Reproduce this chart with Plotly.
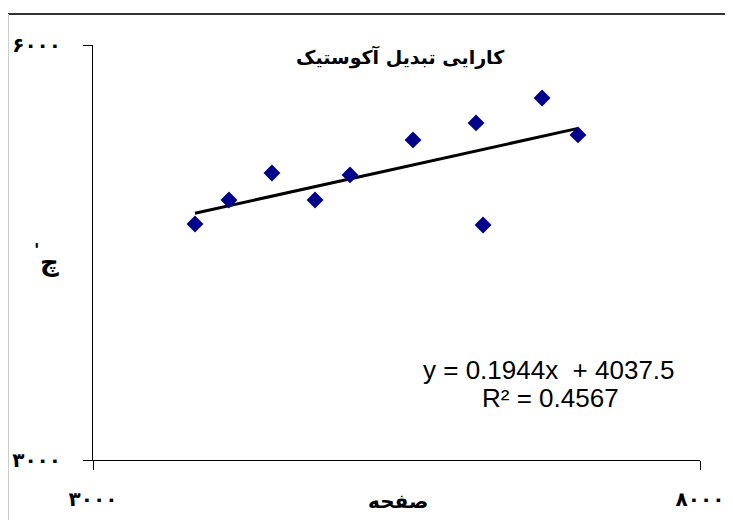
import plotly.graph_objects as go

# Data
x_vals = [3840, 4120, 4474, 4829, 5117, 5636, 6155, 6213, 6699, 6995]
y_vals = [4706, 4880, 5075, 4880, 5061, 5314, 5437, 4699, 5617, 5350]
slope = 0.1944
intercept = 4037.5
r2 = 0.4567

x_ticks = [3000, 8000]
x_ticktext = ["۳۰۰۰", "۸۰۰۰"]
y_ticks = [3000, 6000]
y_ticktext = ["۳۰۰۰", "۶۰۰۰"]

title_text = "کارایی تبدیل آکوستیک"
x_label = "صفحه"
y_label = "چ"
y_label_mark = "'"

# page has an 8px body margin, so the figure is 16px smaller than the window
W, H = 717, 512
L, T = 85, 37
PW, PH = 607, 415
R, B = W - L - PW, H - T - PH


def px(xp):
    return (xp - 8 - L) / PW


def py(yp):
    return 1 - (yp - 8 - T) / PH


line_x = [min(x_vals), max(x_vals)]
line_y = [slope * v + intercept for v in line_x]

fig = go.Figure()
fig.add_trace(go.Scatter(
    x=line_x, y=line_y, mode="lines",
    line=dict(color="black", width=3),
    showlegend=False,
))
fig.add_trace(go.Scatter(
    x=x_vals, y=y_vals, mode="markers",
    marker=dict(symbol="diamond", size=13, color="#00008B"),
    showlegend=False, cliponaxis=False,
))

axis_font = dict(family="DejaVu Sans", size=20, color="black", weight="bold")
eq_font = dict(family="Liberation Sans", size=26, color="black")

fig.update_layout(
    width=W, height=H,
    margin=dict(l=L, r=R, t=T, b=B, autoexpand=False),
    paper_bgcolor="white", plot_bgcolor="white",
    xaxis=dict(
        range=[3000, 8000], tickvals=x_ticks, ticktext=x_ticktext, automargin=False,
        showgrid=False, zeroline=False, showline=True, linecolor="black", linewidth=1,
        ticks="outside", ticklen=9, tickcolor="black", tickwidth=1,
        tickfont=axis_font, ticklabelstandoff=12,
    ),
    yaxis=dict(
        range=[3000, 6000], tickvals=y_ticks, ticktext=y_ticktext, automargin=False,
        showgrid=False, zeroline=False, showline=True, linecolor="black", linewidth=1,
        ticks="outside", ticklen=9, tickcolor="black", tickwidth=1,
        tickfont=axis_font, ticklabelstandoff=18,
    ),
    shapes=[
        dict(type="line", xref="paper", yref="paper", x0=px(8), x1=px(733),
             y0=py(14), y1=py(14), line=dict(color="#333333", width=2)),
        dict(type="line", xref="paper", yref="paper", x0=px(8.5), x1=px(8.5),
             y0=py(528), y1=py(14), line=dict(color="#cccccc", width=1)),
    ],
    annotations=[
        dict(text=title_text, xref="paper", yref="paper",
             x=px(400), y=py(57), xanchor="center", yanchor="middle",
             showarrow=False, font=dict(family="DejaVu Sans", size=19, color="black", weight="bold")),
        dict(text=x_label, xref="paper", yref="paper",
             x=px(398), y=py(501), xanchor="center", yanchor="middle",
             showarrow=False, font=dict(family="DejaVu Sans", size=20, color="black", weight="bold")),
        dict(text=y_label, xref="paper", yref="paper",
             x=px(49), y=py(262), xanchor="center", yanchor="middle",
             showarrow=False, font=dict(family="DejaVu Sans", size=26, color="black", weight="bold")),
        dict(text=y_label_mark, xref="paper", yref="paper",
             x=px(37), y=py(249), xanchor="center", yanchor="middle",
             showarrow=False, font=dict(family="DejaVu Sans", size=18, color="black", weight="bold")),
        dict(text=f"y = {slope}x  + {intercept}", xref="paper", yref="paper",
             x=px(549), y=py(370), xanchor="center", yanchor="middle",
             showarrow=False, font=eq_font),
        dict(text=f"R² = {r2}", xref="paper", yref="paper",
             x=px(550), y=py(398), xanchor="center", yanchor="middle",
             showarrow=False, font=eq_font),
    ],
)

fig.write_html("out.html")
